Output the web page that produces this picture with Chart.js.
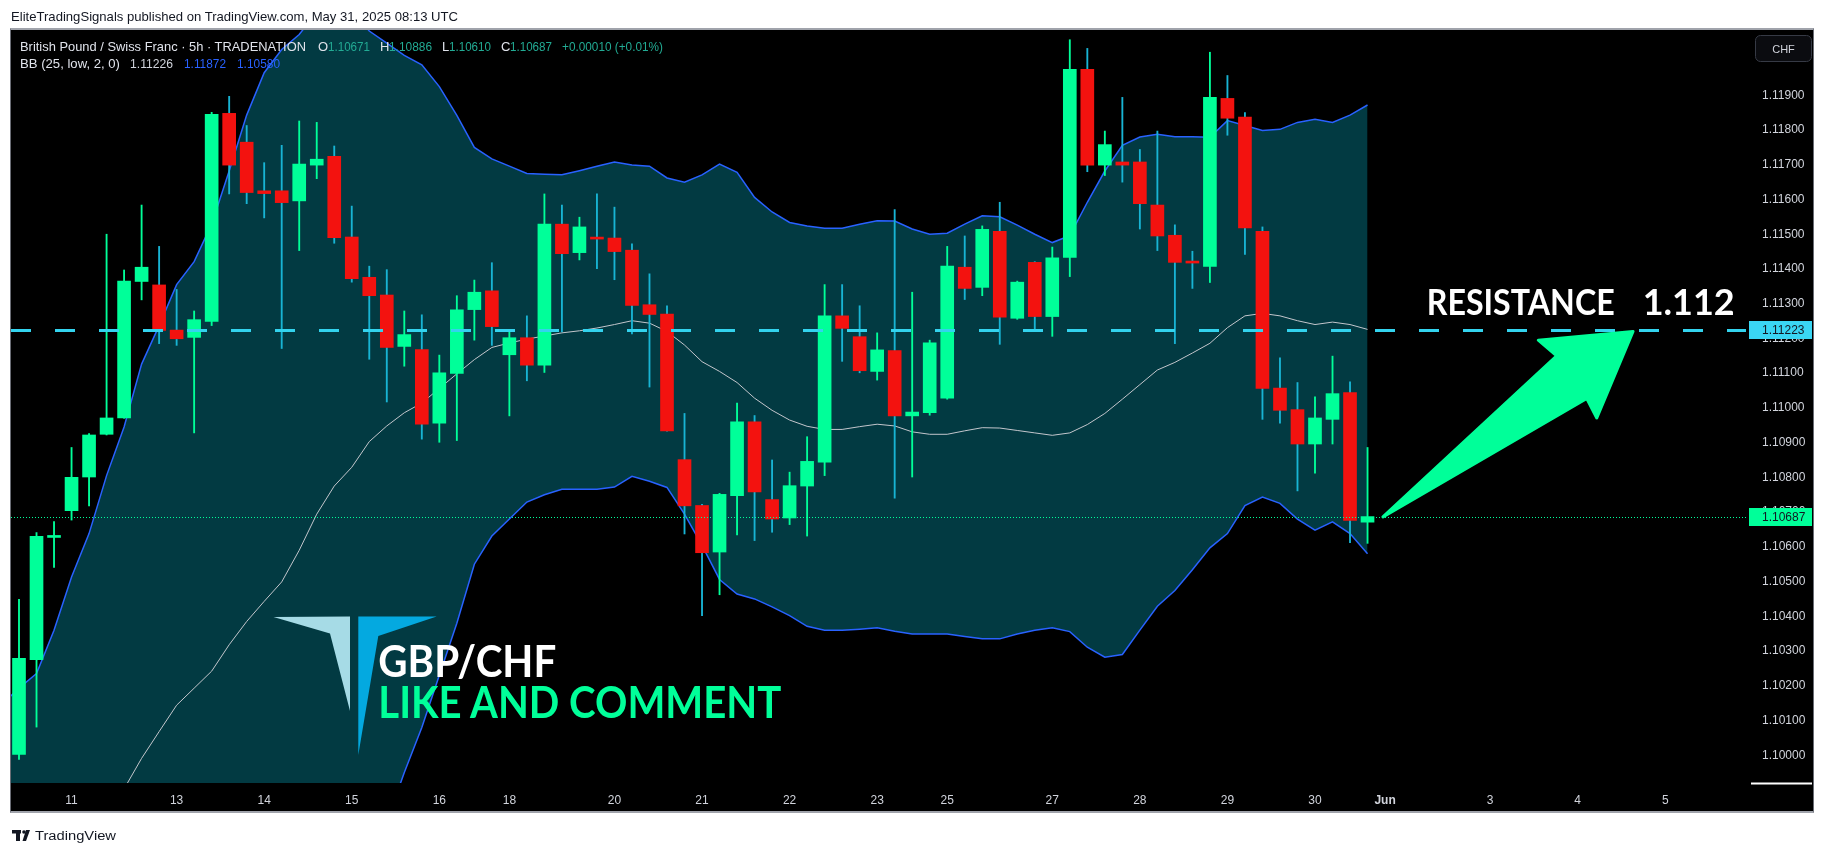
<!DOCTYPE html>
<html>
<head>
<meta charset="utf-8">
<script src="https://cdn.jsdelivr.net/npm/chart.js@4.4.1/dist/chart.umd.min.js"></script>
<style>
html,body{margin:0;padding:0;background:#fff;width:1825px;height:853px;overflow:hidden;}
#frame{position:absolute;left:10px;top:28px;width:1804px;height:785px;background:#000;box-sizing:border-box;
  border-top:2px solid #a0a3ab;border-bottom:2px solid #a0a3ab;border-left:1px solid #6a6d75;border-right:1px solid #6a6d75;}
#c{position:absolute;left:0;top:0;}
#ov{position:absolute;left:0;top:0;}
</style>
</head>
<body>
<div id="frame"></div>
<canvas id="c" width="1825" height="853" style="width:1825px;height:853px"></canvas>
<svg id="ov" width="1825" height="853" xmlns="http://www.w3.org/2000/svg">
  <g font-family="'Liberation Sans', Arial, sans-serif">
    <text x="11" y="20.5" font-size="13" fill="#131722" textLength="447" lengthAdjust="spacingAndGlyphs">EliteTradingSignals published on TradingView.com, May 31, 2025 08:13 UTC</text>
    <text x="20" y="51" font-size="13" fill="#e0e3eb" textLength="286" lengthAdjust="spacingAndGlyphs">British Pound / Swiss Franc · 5h · TRADENATION</text>
    <text x="318" y="51" font-size="13" fill="#e0e3eb">O</text>
    <text x="328" y="51" font-size="13" fill="#22ab94" textLength="42" lengthAdjust="spacingAndGlyphs">1.10671</text>
    <text x="380" y="51" font-size="13" fill="#e0e3eb">H</text>
    <text x="389" y="51" font-size="13" fill="#22ab94" textLength="43" lengthAdjust="spacingAndGlyphs">1.10886</text>
    <text x="442" y="51" font-size="13" fill="#e0e3eb">L</text>
    <text x="449" y="51" font-size="13" fill="#22ab94" textLength="42" lengthAdjust="spacingAndGlyphs">1.10610</text>
    <text x="501" y="51" font-size="13" fill="#e0e3eb">C</text>
    <text x="510" y="51" font-size="13" fill="#22ab94" textLength="42" lengthAdjust="spacingAndGlyphs">1.10687</text>
    <text x="562" y="51" font-size="13" fill="#22ab94" textLength="101" lengthAdjust="spacingAndGlyphs">+0.00010 (+0.01%)</text>
    <text x="20" y="68" font-size="13" fill="#e0e3eb" textLength="100" lengthAdjust="spacingAndGlyphs">BB (25, low, 2, 0)</text>
    <text x="130" y="68" font-size="13" fill="#d1d4dc" textLength="43" lengthAdjust="spacingAndGlyphs">1.11226</text>
    <text x="184" y="68" font-size="13" fill="#2962ff" textLength="42" lengthAdjust="spacingAndGlyphs">1.11872</text>
    <text x="237" y="68" font-size="13" fill="#2962ff" textLength="43" lengthAdjust="spacingAndGlyphs">1.10580</text>
    <rect x="1755.5" y="35.5" width="56" height="26" rx="5" ry="5" fill="#0b0c10" stroke="#363a45" stroke-width="1"/>
    <text x="1783.5" y="52.5" font-size="11" fill="#d1d4dc" text-anchor="middle">CHF</text>
    <line x1="1751" y1="783.5" x2="1812" y2="783.5" stroke="#ffffff" stroke-width="2"/>
    <text x="35" y="840" font-size="12" fill="#131722" textLength="81" lengthAdjust="spacingAndGlyphs">TradingView</text>
  </g>
  <g fill="#131722">
    <rect x="12" y="830" width="9" height="3.5"/>
    <rect x="16" y="830" width="4" height="11"/>
    <circle cx="24" cy="832" r="1.8"/>
    <polygon points="26,830 30,830 26,841 22.5,841"/>
  </g>
  <polygon points="273.5,617 350,616.5 350,711 330,633.5" fill="#a6dbe6"/>
  <polygon points="358.3,616.5 436.7,616.5 378.3,636 358.3,755" fill="#04a9e0"/>
  <g font-family="Lato, 'Open Sans', sans-serif" font-weight="bold">
    <text x="1426.7" y="314.5" font-size="36" fill="#ffffff" textLength="188" lengthAdjust="spacingAndGlyphs">RESISTANCE</text>
    <text x="1642.7" y="314.5" font-size="36" fill="#ffffff" textLength="92" lengthAdjust="spacing">1.112</text>
    <text x="378.3" y="677" font-size="44" fill="#ffffff" textLength="178" lengthAdjust="spacingAndGlyphs">GBP/CHF</text>
    <text x="378.3" y="718.3" font-size="44" fill="#00ff99" textLength="403" lengthAdjust="spacingAndGlyphs">LIKE AND COMMENT</text>
  </g>
</svg>
<script>
// ---- data (5h candles, GBP/CHF) ----
const opens = [1.10002,1.10275,1.10627,1.10704,1.10801,1.10924,1.10971,1.11364,1.11354,1.11224,
1.11203,1.11249,1.11848,1.11765,1.11625,1.11625,1.11596,1.11699,1.11724,1.11492,
1.11376,1.11325,1.11177,1.11168,1.10956,1.11099,1.11283,1.11337,1.11153,1.11202,
1.11123,1.11529,1.11447,1.11490,1.11489,1.11454,1.11297,1.11270,1.10851,1.10719,
1.10585,1.10747,1.10960,1.10736,1.10683,1.10775,1.10844,1.11265,1.11205,1.11105,
1.11165,1.10977,1.10986,1.11028,1.11405,1.11347,1.11508,1.11258,1.11419,1.11263,
1.11433,1.11975,1.11699,1.11708,1.11708,1.11584,1.11497,1.11422,1.11407,1.11891,
1.11837,1.11508,1.11057,1.10995,1.10896,1.10967,1.11044,1.10671];
const highs = [1.10449,1.10641,1.10673,1.10886,1.10926,1.11500,1.11397,1.11584,1.11465,1.11341,
1.11279,1.11851,1.11897,1.11813,1.11706,1.11756,1.11826,1.11822,1.11754,1.11581,
1.11408,1.11398,1.11279,1.11268,1.11152,1.11323,1.11368,1.11418,1.11223,1.11265,
1.11616,1.11584,1.11549,1.11616,1.11578,1.11472,1.11386,1.11294,1.10984,1.10722,
1.10754,1.11014,1.10978,1.10850,1.10815,1.10917,1.11355,1.11355,1.11294,1.11216,
1.11571,1.11333,1.11195,1.11465,1.11495,1.11524,1.11592,1.11365,1.11421,1.11463,
1.12060,1.12035,1.11797,1.11894,1.11744,1.11797,1.11527,1.11451,1.12024,1.11957,
1.11850,1.11521,1.11144,1.11073,1.11032,1.11149,1.11075,1.10886];
const lows = [1.09988,1.10081,1.10541,1.10677,1.10718,1.10922,1.10970,1.11311,1.11185,1.11180,
1.10928,1.11237,1.11616,1.11588,1.11547,1.11171,1.11453,1.11660,1.11474,1.11362,
1.11140,1.11017,1.11120,1.10910,1.10901,1.10906,1.11195,1.11180,1.10977,1.11078,
1.11102,1.11219,1.11426,1.11401,1.11369,1.11213,1.11060,1.10933,1.10637,1.10402,
1.10462,1.10634,1.10618,1.10642,1.10664,1.10631,1.10805,1.11134,1.11101,1.11080,
1.10740,1.10801,1.10979,1.11025,1.11312,1.11323,1.11183,1.11255,1.11224,1.11206,
1.11378,1.11680,1.11669,1.11650,1.11515,1.11453,1.11185,1.11344,1.11361,1.11785,
1.11442,1.10967,1.10956,1.10761,1.10812,1.10896,1.10612,1.10610];
const closes = [1.10279,1.10630,1.10632,1.10800,1.10922,1.10971,1.11365,1.11405,1.11223,1.11199,
1.11254,1.11845,1.11699,1.11620,1.11617,1.11591,1.11702,1.11716,1.11490,1.11372,
1.11323,1.11174,1.11211,1.10953,1.11101,1.11282,1.11333,1.11234,1.11202,1.11123,
1.11529,1.11444,1.11521,1.11486,1.11450,1.11295,1.11269,1.10934,1.10718,1.10583,
1.10751,1.10960,1.10758,1.10680,1.10776,1.10846,1.11265,1.11229,1.11107,1.11167,
1.10977,1.10988,1.11187,1.11408,1.11344,1.11514,1.11261,1.11362,1.11263,1.11432,
1.11975,1.11699,1.11758,1.11699,1.11588,1.11495,1.11419,1.11417,1.11894,1.11834,
1.11518,1.11056,1.10993,1.10896,1.10971,1.11041,1.10676,1.10687];
// Bollinger band values read per bar; the first entry belongs to the bar just left of the view
const bbUpper = [1.10145,1.10193,1.10235,1.10360,1.10513,1.10638,1.10805,1.10945,1.11126,1.11237,1.11355,
1.11421,1.11529,1.11682,1.11843,1.11965,1.12032,1.12075,1.12140,1.12170,1.12150,
1.12085,1.12050,1.12015,1.11988,1.11925,1.11842,1.11750,1.11717,1.11696,1.11675,
1.11673,1.11671,1.11683,1.11696,1.11708,1.11699,1.11696,1.11662,1.11650,1.11671,
1.11702,1.11678,1.11606,1.11564,1.11534,1.11524,1.11517,1.11517,1.11529,1.11539,
1.11538,1.11515,1.11500,1.11503,1.11529,1.11553,1.11550,1.11526,1.11500,1.11476,
1.11496,1.11592,1.11682,1.11756,1.11780,1.11788,1.11781,1.11781,1.11779,1.11827,
1.11813,1.11799,1.11802,1.11822,1.11831,1.11822,1.11843,1.11872];
const bbBasis = [null,null,null,null,null,null,null,1.09903,1.09991,1.10068,1.10144,
1.10193,1.10242,1.10318,1.10385,1.10443,1.10499,1.10590,1.10694,1.10775,1.10829,
1.10903,1.10948,1.10986,1.11014,1.11056,1.11098,1.11139,1.11174,1.11187,1.11198,
1.11207,1.11216,1.11222,1.11230,1.11240,1.11251,1.11244,1.11220,1.11181,1.11133,
1.11105,1.11073,1.11028,1.10993,1.10965,1.10947,1.10938,1.10938,1.10946,1.10953,
1.10948,1.10931,1.10924,1.10924,1.10934,1.10943,1.10942,1.10935,1.10928,1.10921,
1.10928,1.10952,1.10984,1.11025,1.11067,1.11109,1.11131,1.11158,1.11186,1.11231,
1.11265,1.11272,1.11265,1.11251,1.11240,1.11247,1.11240,1.11226];
const bbLower = [1.0885,1.0885,1.0884,1.0883,1.0884,1.0885,1.0886,1.0886,1.0886,1.0890,1.0893,
1.0896,1.0896,1.0895,1.0893,1.0892,1.0897,1.0910,1.0925,1.0938,1.0951,
1.0972,1.09810,1.09950,1.10080,1.10230,1.10380,1.10550,1.10631,1.10680,1.10729,
1.10750,1.10766,1.10766,1.10766,1.10772,1.10803,1.10789,1.10771,1.10694,1.10604,
1.10506,1.10464,1.10450,1.10427,1.10402,1.10371,1.10360,1.10360,1.10363,1.10367,
1.10357,1.10349,1.10349,1.10349,1.10342,1.10335,1.10335,1.10349,1.10360,1.10367,
1.10356,1.10311,1.10282,1.10290,1.10360,1.10429,1.10474,1.10534,1.10597,1.10638,
1.10719,1.10743,1.10725,1.10680,1.10648,1.10672,1.10638,1.10580];
const xTickIdx = [3,9,14,19,24,28,34,39,44,49,53,59,64,69,74,78,84,89,94];
const xTickLabels = ['11','13','14','15','16','18','20','21','22','23','25','27','28','29','30','Jun','3','4','5'];
const yTicks = [1.100,1.101,1.102,1.103,1.104,1.105,1.106,1.107,1.108,1.109,1.110,1.111,1.112,1.113,1.114,1.115,1.116,1.117,1.118,1.119];
const resistance = 1.11223;
const lastClose = closes[closes.length - 1];
// arrow annotation anchored in data space (bar index, price)
const arrowIdx   = [77.88, 87.80, 86.75, 92.16, 90.09, 89.52];
const arrowPrice = [1.10686, 1.11150, 1.11195, 1.11220, 1.10971, 1.11027];

const GREEN = '#00ff99', RED = '#f3120f', WICK_RED = '#18b4d4';
const BAND = '#2962ff', FILL = '#023a42', BASIS = '#c3c6cc', RES = '#33d3ee';
const FONT = "'Liberation Sans', Arial, sans-serif";

const up = opens.map((o, i) => closes[i] >= o);
const bandPts = arr => arr.map((v, i) => ({x: i - 1, y: v}));

const overlay = {
  id: 'overlay',
  afterDatasetsDraw(chart) {
    const {ctx, chartArea: a, scales: {x, y}} = chart;
    ctx.save();
    ctx.beginPath(); ctx.rect(a.left, a.top, a.right - a.left, a.bottom - a.top); ctx.clip();
    const yc = Math.round(y.getPixelForValue(lastClose)) + 0.5;
    ctx.strokeStyle = GREEN; ctx.lineWidth = 1; ctx.setLineDash([1, 2]);
    ctx.beginPath(); ctx.moveTo(a.left, yc); ctx.lineTo(a.right, yc); ctx.stroke();
    const yr = Math.round(y.getPixelForValue(resistance)) + 0.5;
    ctx.strokeStyle = RES; ctx.lineWidth = 3; ctx.setLineDash([20, 24]);
    ctx.beginPath(); ctx.moveTo(a.left, yr); ctx.lineTo(a.right, yr); ctx.stroke();
    ctx.setLineDash([]);
    ctx.fillStyle = GREEN; ctx.strokeStyle = GREEN; ctx.lineWidth = 3; ctx.lineJoin = 'round';
    ctx.beginPath();
    arrowIdx.forEach((v, k) => {
      const px = x.getPixelForValue(v), py = y.getPixelForValue(arrowPrice[k]);
      if (k === 0) ctx.moveTo(px, py); else ctx.lineTo(px, py);
    });
    ctx.closePath(); ctx.fill(); ctx.stroke();
    ctx.restore();
  },
  afterDraw(chart) {
    const {ctx, scales: {y}} = chart;
    const tag = (val, bg) => {
      const py = Math.round(y.getPixelForValue(val));
      ctx.save();
      ctx.fillStyle = bg;
      ctx.fillRect(y.left + 3, py - 9, y.right - y.left - 3, 18);
      ctx.fillStyle = '#131722';
      ctx.font = '12px ' + FONT;
      ctx.textBaseline = 'middle'; ctx.textAlign = 'left';
      ctx.fillText(val.toFixed(5), y.left + 16, py + 0.5);
      ctx.restore();
    };
    tag(resistance, '#3ad6f4');
    tag(lastClose, GREEN);
  }
};

new Chart(document.getElementById('c'), {
  type: 'bar',
  data: {
    datasets: [
      {type: 'line', label: 'BB upper', data: bandPts(bbUpper), borderColor: BAND, borderWidth: 1.5,
       pointRadius: 0, tension: 0, fill: '+1', backgroundColor: FILL, order: 5},
      {type: 'line', label: 'BB lower', data: bandPts(bbLower), borderColor: BAND, borderWidth: 1.5,
       pointRadius: 0, tension: 0, fill: false, order: 4},
      {type: 'line', label: 'BB basis', data: bandPts(bbBasis), borderColor: BASIS, borderWidth: 1,
       pointRadius: 0, tension: 0, fill: false, spanGaps: false, order: 3},
      {type: 'bar', label: 'wicks', data: lows.map((l, i) => ({x: i, y: [l, highs[i]]})),
       backgroundColor: up.map(u => u ? GREEN : WICK_RED), barThickness: 1.2, grouped: false, order: 2},
      {type: 'bar', label: 'bodies', data: opens.map((o, i) => ({x: i, y: [o, closes[i]]})),
       backgroundColor: up.map(u => u ? GREEN : RED), barThickness: 13, minBarLength: 2, grouped: false, order: 1}
    ]
  },
  options: {
    responsive: false,
    devicePixelRatio: 1,
    animation: false,
    events: [],
    layout: {padding: {left: 11, top: 30, right: 13, bottom: 43}},
    plugins: {legend: {display: false}, tooltip: {enabled: false}},
    scales: {
      x: {
        type: 'linear', min: -0.457, max: 98.61, offset: false,
        grid: {display: false, drawTicks: false}, border: {display: false},
        afterBuildTicks: s => { s.ticks = xTickIdx.map(v => ({value: v})); },
        afterFit: s => { s.height = 27; },
        ticks: {
          autoSkip: false, maxRotation: 0, padding: 10, color: '#d1d4dc',
          font: c => ({family: FONT, size: 12, weight: (c.index === xTickLabels.indexOf('Jun')) ? 'bold' : 'normal'}),
          callback: (v, i) => xTickLabels[i]
        }
      },
      y: {
        type: 'linear', position: 'right', min: 1.0992, max: 1.12088,
        grid: {display: false, drawTicks: false}, border: {display: false},
        afterBuildTicks: s => { s.ticks = yTicks.map(v => ({value: v})); },
        afterFit: s => { s.width = 66; },
        ticks: {padding: 16, color: '#d1d4dc', font: {family: FONT, size: 12}, callback: v => v.toFixed(5)}
      }
    }
  },
  plugins: [overlay]
});
</script>
</body>
</html>
